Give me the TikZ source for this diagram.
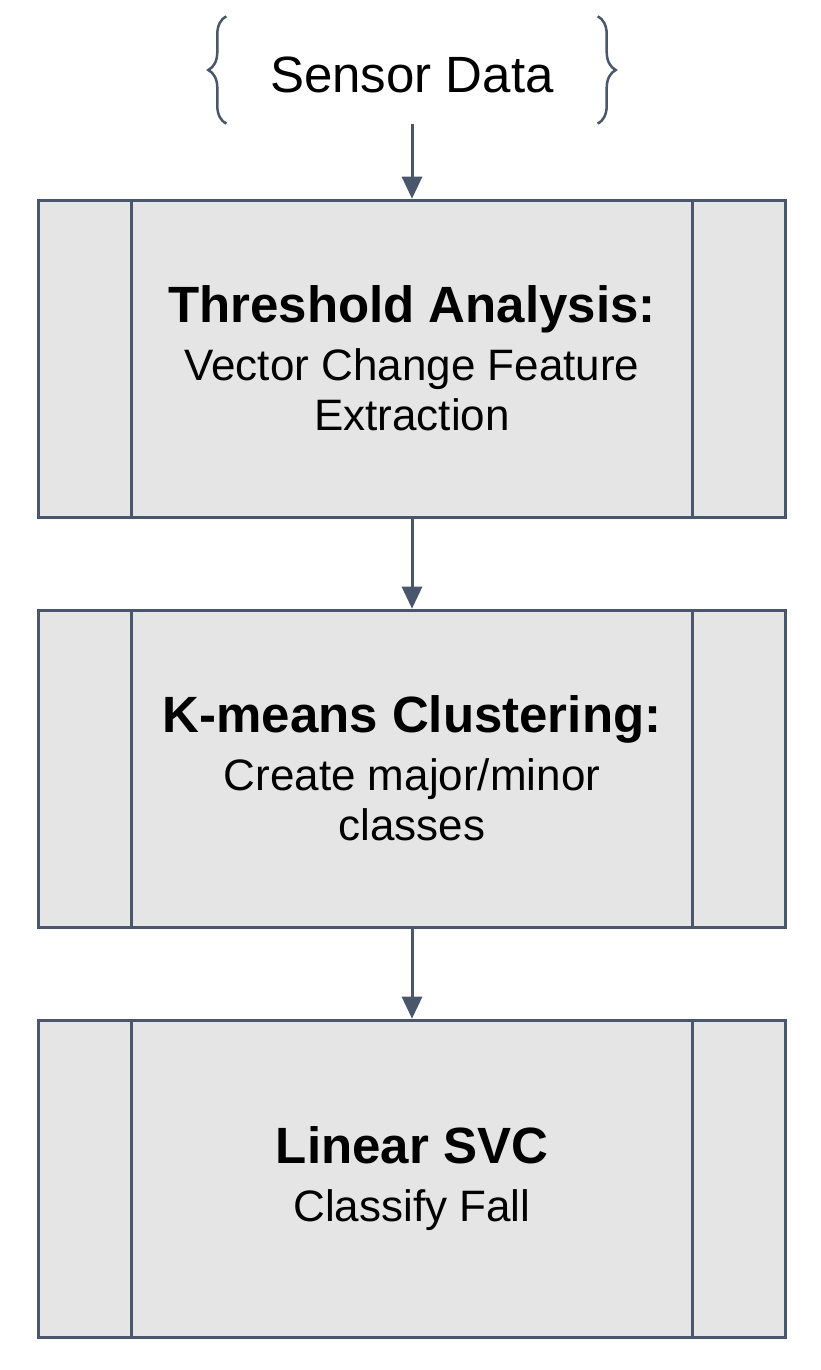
\documentclass[tikz,border=0pt]{standalone}
\usepackage{fontspec}
\setmainfont{Liberation Sans}
\usetikzlibrary{arrows.meta}
\usetikzlibrary{positioning}
\usetikzlibrary{decorations.pathreplacing}
\definecolor{slate}{RGB}{74,86,108}
\definecolor{boxgray}{RGB}{229,229,229}
\newcommand{\headfont}{\fontsize{51}{58}\selectfont\bfseries}
\tikzset{Process/.style={rectangle, draw=slate, fill=boxgray, line width=3pt, minimum width=747pt, minimum height=317pt, align=center, font=\fontsize{44}{50}\selectfont,
    path picture={\draw[slate, line width=3pt] ([xshift=93pt]path picture bounding box.north west) -- ([xshift=93pt]path picture bounding box.south west);
                  \draw[slate, line width=3pt] ([xshift=-93pt]path picture bounding box.north east) -- ([xshift=-93pt]path picture bounding box.south east);}}}

\begin{document}
\begin{tikzpicture}[x=1pt, y=1pt, Flow/.style={-{Triangle[length=22pt, width=20pt]}, slate, line width=3pt}, Brace/.style={decorate, decoration={brace, amplitude=18pt}, slate, line width=2.5pt}]
        \useasboundingbox (0,0) rectangle (820,-1370);
        \node[minimum width=371pt, minimum height=107pt, font=\fontsize{51}{58}\selectfont] (sensor) at (412,-70) {\raisebox{-5pt}[\height][0pt]{Sensor Data}};
        \node[Process, below=75pt of sensor] (threshold) {{\headfont Threshold Analysis:}\\[8pt]Vector Change Feature\\Extraction};
        \node[Process, below=90pt of threshold] (kmeans) {{\headfont K-means Clustering:}\\[8pt]Create major/minor\\classes};
        \node[Process, below=90pt of kmeans] (svc) {{\headfont Linear SVC}\\[8pt]Classify Fall};

        \draw[Brace] (sensor.south west) -- (sensor.north west);
        \draw[Brace] (sensor.north east) -- (sensor.south east);
    
        \draw[Flow] (sensor) -- (threshold);
        \draw[Flow] (threshold) -- (kmeans);
        \draw[Flow] (kmeans) -- (svc);
    \end{tikzpicture}
\end{document}
